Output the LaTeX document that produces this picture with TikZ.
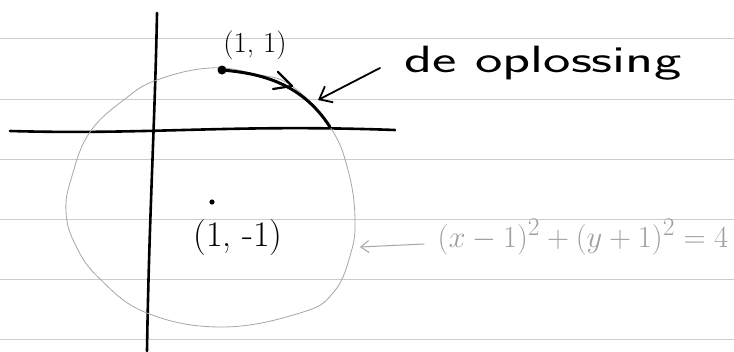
\documentclass[tikz,border=0pt]{standalone}
\usepackage{graphicx}
\usetikzlibrary{arrows.meta}
\begin{document}
\begin{tikzpicture}[x=1pt,y=-1pt,
  ruled/.style={gray!40,line width=0.6pt},
  axis/.style={black,line width=2.6pt,line cap=round},
  circ/.style={gray!70,line width=0.8pt},
  sol/.style={black,line width=3pt,line cap=round},
  hand/.style={black,line width=1.8pt,line cap=round,line join=round},
  thinhand/.style={gray!70,line width=1pt,line cap=round},
  lbl/.style={inner sep=0pt,anchor=base},
]
\fill[white] (0,0) rectangle (734,351);
\useasboundingbox (0,0) rectangle (734,351);
% ruled paper
\foreach \yy in {38,99,159,219,279,339} \draw[ruled] (0,\yy) -- (734,\yy);
% axes
\coordinate (ytop) at (157,13);
\coordinate (ybot) at (147,351);
\draw[axis] (ytop) .. controls (155,120) and (149,220) .. (ybot);
\coordinate (xl) at (10,131);
\coordinate (xr) at (395,130);
\draw[axis] (xl) .. controls (150,135) and (230,124) .. (xr);
% circle
\draw[circ] plot[smooth cycle, tension=0.7] coordinates {
 (210,68) (255,74) (292,86) (330,127) (348,170) (355,219) (350,256)
 (333,293) (300,313) (222,327) (147,313) (100,279) (76,246) (66,212)
 (72,176) (90,132) (125,99) (157,80)};
% solution arc
\coordinate (p11) at (222,70);
\coordinate (q) at (330,127);
\draw[sol] (p11) .. controls (255,73) and (300,80) .. (q);
\coordinate (mtip) at (292,86);
\draw[hand,line width=2.2pt] (278,72) -- (mtip) -- (273,89);
\fill (p11) circle (4.5);
\node[lbl] (lab11) at (255,52) {\fontsize{29}{33}\selectfont (1, 1)};
% label de oplossing
\node[lbl] (oplos) at (543,72) {\scalebox{1.53}[1]{\fontsize{38}{46}\selectfont\sffamily de oplossing}};
\coordinate (a1) at (380,68);
\coordinate (a1t) at (318,100);
\draw[hand,-{Straight Barb[length=11pt,width=18pt]}] (a1) -- (a1t);
% centre
\coordinate (c) at (212,202);
\fill (c) circle (2.6);
\node[lbl] (labc) at (238,246) {\fontsize{36}{42}\selectfont (1, -1)};
% equation
\node[lbl,text=gray!75] (eq) at (583,247) {\scalebox{1.23}{\fontsize{30}{36}\selectfont $(x-1)^2+(y+1)^2=4$}};
\coordinate (e1) at (424,244);
\coordinate (e1t) at (360,247);
\draw[thinhand,-{Straight Barb[length=8pt,width=12pt]}] (e1) -- (e1t);
\end{tikzpicture}
\end{document}
